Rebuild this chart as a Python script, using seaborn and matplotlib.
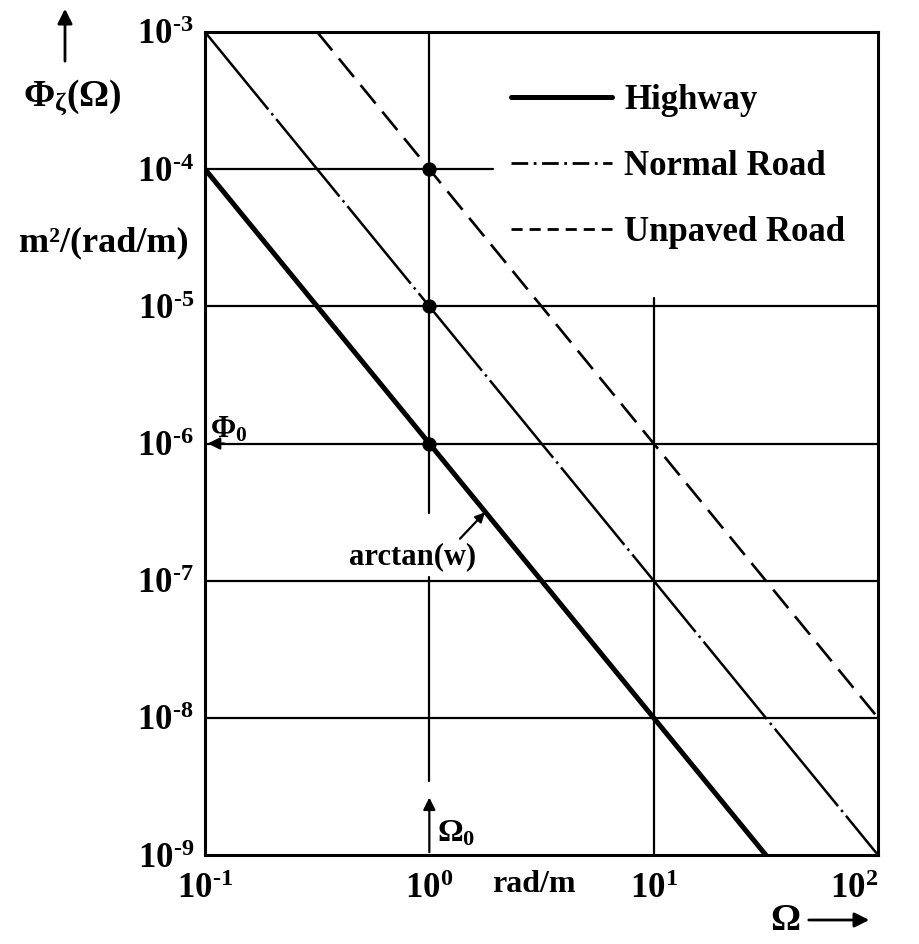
import numpy as np
import pandas as pd
import matplotlib
matplotlib.use("Agg")
import matplotlib.pyplot as plt
import seaborn as sns
from matplotlib.lines import Line2D

# ---- data ----
roads = ["Highway", "Normal Road", "Unpaved Road"]
highway_x = [0.1, 31.62]
highway_y = [1e-4, 1e-9]
normal_x = [0.1, 100.0]
normal_y = [1e-3, 1e-9]
unpaved_x = [0.3162, 100.0]
unpaved_y = [1e-3, 1e-8]
ref_x = [1.0, 1.0, 1.0]
ref_y = [1e-4, 1e-5, 1e-6]
xticks = [0.1, 1, 10, 100]
xticklabels = [r"$10^{\text{-}1}$", r"$10^{0}$", r"$10^{1}$", r"$10^{2}$"]
yticks = [1e-9, 1e-8, 1e-7, 1e-6, 1e-5, 1e-4, 1e-3]
yticklabels = [r"$10^{\text{-}9}$", r"$10^{\text{-}8}$", r"$10^{\text{-}7}$", r"$10^{\text{-}6}$",
               r"$10^{\text{-}5}$", r"$10^{\text{-}4}$", r"$10^{\text{-}3}$"]

df = pd.DataFrame({
    "x": highway_x + normal_x + unpaved_x,
    "y": highway_y + normal_y + unpaved_y,
    "road": [roads[0]] * 2 + [roads[1]] * 2 + [roads[2]] * 2,
})

sns.set_theme(style="white")
plt.rcParams["font.family"] = ["Liberation Serif", "DejaVu Serif"]
plt.rcParams["font.weight"] = "bold"
plt.rcParams["text.color"] = "black"
plt.rcParams["xtick.color"] = "black"
plt.rcParams["ytick.color"] = "black"
plt.rcParams["mathtext.fontset"] = "custom"
plt.rcParams["mathtext.rm"] = "Liberation Serif:bold"
plt.rcParams["mathtext.it"] = "Liberation Serif:bold"
plt.rcParams["mathtext.bf"] = "Liberation Serif:bold"

fig = plt.figure(figsize=(9.2, 9.44), dpi=100)
ax = fig.add_axes([205 / 920, 1 - 855 / 944, 673 / 920, 823 / 944])
ax.set_xscale("log")
ax.set_yscale("log")
ax.set_xlim(0.1, 100)
ax.set_ylim(1e-9, 1e-3)

# partial grid lines
gkw = dict(color="black", lw=1.6, zorder=1)
ax.axhline(1e-4, xmin=0, xmax=0.428, **gkw)
for yv in [1e-5, 1e-6, 1e-7, 1e-8]:
    ax.axhline(yv, **gkw)
ax.axvline(1, ymin=0.416, ymax=1, **gkw)
ax.plot([1, 1], [1.07e-7, 3.45e-9], **gkw)
ax.plot([10, 10], [1.15e-5, 1e-9], **gkw)

sns.lineplot(data=df, x="x", y="y", style="road", size="road",
             style_order=roads, size_order=roads,
             dashes={"Highway": "", "Normal Road": (40, 2, 1, 2), "Unpaved Road": (9, 4)},
             sizes={"Highway": 3.6, "Normal Road": 1.8, "Unpaved Road": 1.9},
             color="black", legend=False, ax=ax, zorder=3)

sns.scatterplot(x=ref_x, y=ref_y, color="black", s=90, edgecolor="black",
                ax=ax, zorder=4, legend=False)

ax.set_xticks(xticks)
ax.set_xticklabels(xticklabels)
ax.set_yticks(yticks)
ax.set_yticklabels(yticklabels)
ax.minorticks_off()
ax.tick_params(length=0, labelsize=25, pad=8, colors="black")
ax.tick_params(axis="x", pad=13)
xl = ax.get_xticklabels()
xl[-1].set_horizontalalignment("right")
ax.set_xlabel("")
ax.set_ylabel("")
for s in ax.spines.values():
    s.set_color("black")
    s.set_linewidth(2.2)

# legend
handles = [Line2D([], [], color="black", lw=3.6),
           Line2D([], [], color="black", lw=2.0, dashes=(6, 2, 1, 2)),
           Line2D([], [], color="black", lw=2.0, dashes=(4, 2.5))]
leg = ax.legend(handles, roads, loc="upper left", bbox_to_anchor=(0.455, 0.937),
                frameon=False, fontsize=25, handlelength=2.9, handletextpad=0.35,
                labelspacing=0.95, borderpad=0, borderaxespad=0)

# annotations inside the axes
ax.text((210 - 205) / 673, 1 - (430 - 32) / 823, r"$\Phi_{0}$", transform=ax.transAxes,
        fontsize=22, ha="left", va="center")
ax.annotate("", xy=(0.1, 1e-6), xytext=(0.125, 1e-6),
            arrowprops=dict(arrowstyle="-|>", color="black", lw=1.6, mutation_scale=18))
ax.annotate("", xy=(1, 2.75e-9), xytext=(1, 1e-9),
            arrowprops=dict(arrowstyle="-|>", color="black", lw=1.6, mutation_scale=18))
ax.text((437 - 205) / 673, 1 - (834 - 32) / 823, r"$\Omega_{0}$", transform=ax.transAxes,
        fontsize=23, ha="left", va="center")
ax.annotate("arctan(w)", xy=(1.77, 3.15e-7), xytext=(0.84, 1.5e-7),
            fontsize=22, ha="center", va="center",
            arrowprops=dict(arrowstyle="-|>", color="black", lw=1.6, mutation_scale=14,
                            shrinkA=0, shrinkB=0, relpos=(0.85, 1.0)))

# annotations outside the axes
fig.text(72 / 920, 1 - 97 / 944, r"$\Phi_{\zeta}(\Omega)$", fontsize=27, ha="center", va="center")
fig.text(104 / 920, 1 - 243 / 944, "m²/(rad/m)", fontsize=26, ha="center", va="center")
ax.annotate("", xy=(65 / 920, 1 - 6 / 944), xytext=(65 / 920, 1 - 64 / 944),
            xycoords="figure fraction", textcoords="figure fraction", annotation_clip=False,
            arrowprops=dict(arrowstyle="-|>", color="black", lw=2, mutation_scale=22))
fig.text(534 / 920, 1 - 884 / 944, "rad/m", fontsize=23, ha="center", va="center")
fig.text(785 / 920, 1 - 920 / 944, "Ω", fontsize=27, ha="center", va="center")
ax.annotate("", xy=(872 / 920, 1 - 920 / 944), xytext=(806 / 920, 1 - 920 / 944),
            xycoords="figure fraction", textcoords="figure fraction", annotation_clip=False,
            arrowprops=dict(arrowstyle="-|>", color="black", lw=2, mutation_scale=22))

fig.savefig("out.png", dpi=100, facecolor="white")
